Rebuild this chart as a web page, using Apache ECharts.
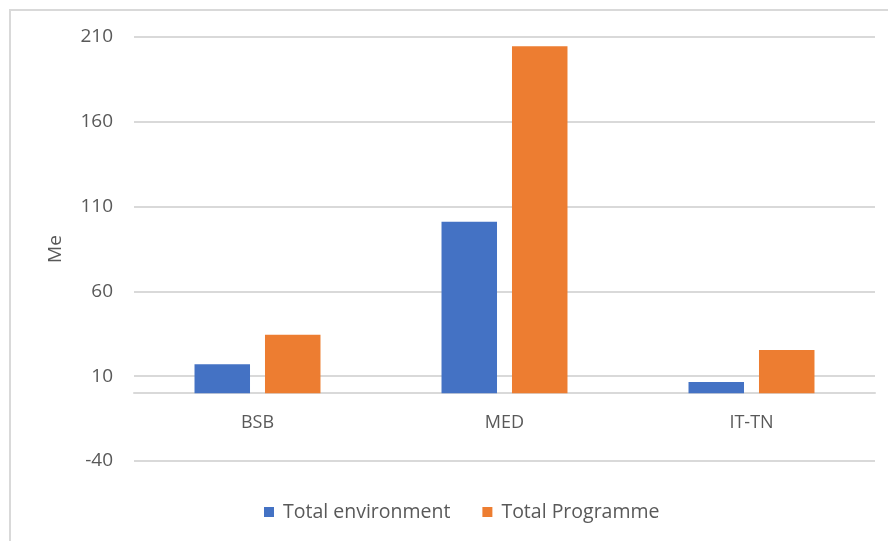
<!DOCTYPE html>
<html>
<head>
<meta charset="utf-8">
<script src="https://cdn.jsdelivr.net/npm/echarts@6/dist/echarts.min.js"></script>
<style>
  html, body { margin: 0; padding: 0; background: #fff; }
  #chart { width: 888px; height: 541px; }
</style>
</head>
<body>
<div id="chart"></div>
<script>
// 数据
var categories = ['BSB', 'MED', 'IT-TN']
var totalEnvironment = [17, 101, 6.6]
var totalProgramme = [34.5, 204.6, 25.4]
var yTicks = [-40, 10, 60, 110, 160, 210]

var textColor = '#595959'
var gridColor = '#d9d9d9'
var fontFamily = 'Open Sans, Noto Sans, sans-serif'

var myChart = echarts.init(document.getElementById('chart'))
var option = {
  animation: false,
  textStyle: { fontFamily: fontFamily },
  graphic: [
    {
      type: 'rect',
      shape: { x: 10, y: 10, width: 900, height: 600 },
      style: { fill: 'none', stroke: gridColor, lineWidth: 2 },
      silent: true
    }
  ],
  legend: {
    top: 497,
    left: 259,
    itemWidth: 10,
    itemHeight: 10,
    itemGap: 32,
    icon: 'rect',
    textStyle: { color: textColor, fontSize: 19.5, fontFamily: fontFamily, padding: [0, 0, 0, 4] },
    data: ['Total environment', 'Total Programme']
  },
  grid: {
    left: 134,
    right: 13,
    top: 37,
    bottom: 80,
    containLabel: false
  },
  xAxis: {
    type: 'category',
    data: categories,
    axisTick: { show: false },
    axisLine: { lineStyle: { color: gridColor, width: 2 } },
    axisLabel: { color: textColor, fontSize: 18, margin: -47 }
  },
  yAxis: {
    type: 'value',
    name: 'Me',
    nameLocation: 'middle',
    nameGap: 69,
    nameTextStyle: { color: textColor, fontSize: 19 },
    min: -40,
    max: 210,
    interval: 50,
    axisLine: { show: false },
    axisTick: { show: false, customValues: yTicks },
    axisLabel: { color: textColor, fontSize: 19, margin: 21, customValues: yTicks },
    splitLine: { lineStyle: { color: gridColor, width: 2 } }
  },
  series: [
    {
      name: 'Total environment',
      type: 'bar',
      data: totalEnvironment,
      barGap: '27%',
      barCategoryGap: '49%',
      itemStyle: { color: '#4472c4' }
    },
    {
      name: 'Total Programme',
      type: 'bar',
      data: totalProgramme,
      itemStyle: { color: '#ed7d31' }
    }
  ]
}
myChart.setOption(option)
</script>
</body>
</html>
